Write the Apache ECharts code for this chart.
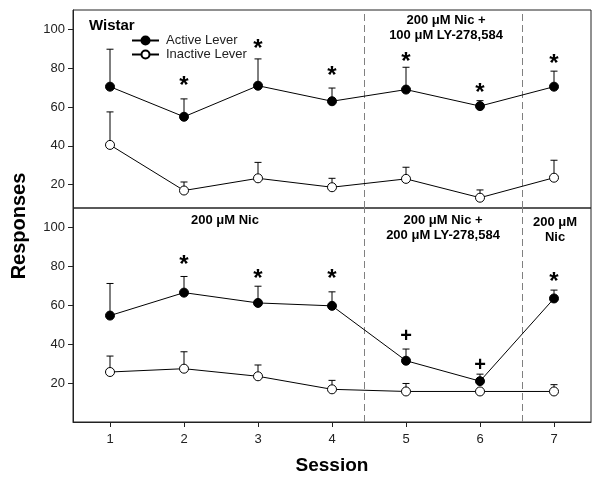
<!DOCTYPE html>
<html>
<head>
<meta charset="utf-8">
<script src="https://cdn.jsdelivr.net/npm/echarts@6/dist/echarts.min.js"></script>
<style>html,body{margin:0;padding:0;background:#fff;}#c{width:600px;height:484px;}</style>
</head>
<body>
<div id="c"></div>
<script>
// ---- data ----
const sessions = [1, 2, 3, 4, 5, 6, 7];
const tickLabels = [1, 2, 3, 4, 5, 6, 7];
const yTicks = [20, 40, 60, 80, 100];
const phaseBoundaries = [4.43, 6.57];

// Top panel (Wistar, LY 100 uM)
const topActive = [70.5, 55, 71, 63, 69, 60.5, 70.5];
const topActiveErr = [19.3, 9.2, 13.8, 6.8, 11.5, 2.8, 8];
const topInactive = [40.5, 17, 23.3, 18.7, 23, 13.3, 23.6];
const topInactiveErr = [17, 4.4, 8.2, 4.6, 6, 4, 9];
const topMarks = ['', '*', '*', '*', '*', '*', '*'];
const topMarkY = [0, 74, 93, 79, 86, 70, 85];

// Bottom panel (LY 200 uM)
const botActive = [54.7, 66.5, 61.2, 59.7, 31.5, 21, 63.5];
const botActiveErr = [16.5, 8.3, 8.6, 7.2, 6, 3.6, 4.3];
const botInactive = [25.7, 27.4, 23.5, 16.8, 15.7, 15.7, 15.7];
const botInactiveErr = [8.2, 8.7, 5.8, 4.6, 4.1, 0, 3.5];
const botMarks = ['', '*', '*', '*', '+', '+', '*'];
const botMarkY = [0, 83.4, 76.2, 76.2, 43.9, 28.9, 74.8];

const FONT = "'Liberation Sans', Arial, sans-serif";

function pts(vals) { return sessions.map((s, i) => [s, vals[i]]); }
function errPts(vals, errs) { return sessions.map((s, i) => [s, vals[i], errs[i]]); }
function markPts(marks, ys) {
  const out = [];
  sessions.forEach((s, i) => { if (marks[i]) out.push([s, ys[i], marks[i]]); });
  return out;
}

function errRender(params, api) {
  const x = api.value(0), y = api.value(1), e = api.value(2);
  if (!e) return null;
  const p0 = api.coord([x, y]);
  const p1 = api.coord([x, y + e]);
  const st = { stroke: '#000', lineWidth: 1 };
  return {
    type: 'group', children: [
      { type: 'line', shape: { x1: p0[0], y1: p0[1], x2: p1[0], y2: p1[1] }, style: st },
      { type: 'line', shape: { x1: p1[0] - 3.5, y1: p1[1], x2: p1[0] + 3.5, y2: p1[1] }, style: st }
    ]
  };
}
function markRender(params, api) {
  const p = api.coord([api.value(0), api.value(1)]);
  const t = api.value(2);
  const isStar = t === '*';
  return {
    type: 'text',
    style: {
      text: t, x: p[0], y: p[1] + (isStar ? 6 : 0),
      textAlign: 'center', textVerticalAlign: 'middle',
      font: 'bold ' + (isStar ? 24 : 20) + 'px ' + FONT, fill: '#000'
    }
  };
}

function lineSeries(name, vals, gi, filled, withMark) {
  const s = {
    name: name, type: 'line', xAxisIndex: gi, yAxisIndex: gi, data: pts(vals),
    symbol: 'circle', symbolSize: 9, z: 5,
    lineStyle: { color: '#000', width: 1 },
    itemStyle: { color: filled ? '#000' : '#fff', borderColor: '#000', borderWidth: 1 },
    emphasis: { disabled: true }, animation: false
  };
  if (withMark) {
    s.markLine = {
      silent: true, symbol: 'none', label: { show: false },
      lineStyle: { color: '#808080', type: [7, 4], width: 1 },
      data: phaseBoundaries.map(v => ({ xAxis: v }))
    };
  }
  return s;
}
function errSeries(vals, errs, gi) {
  return {
    type: 'custom', xAxisIndex: gi, yAxisIndex: gi, renderItem: errRender,
    data: errPts(vals, errs), z: 2, silent: true, animation: false
  };
}
function markSeries(marks, ys, gi) {
  return {
    type: 'custom', xAxisIndex: gi, yAxisIndex: gi, renderItem: markRender,
    data: markPts(marks, ys), z: 6, silent: true, animation: false
  };
}

const chart = echarts.init(document.getElementById('c'), null, { renderer: 'canvas' });

const xBase = {
  type: 'value', min: 0.5, max: 7.5, splitLine: { show: false }
};
const yBase = {
  type: 'value', max: 110, splitLine: { show: false },
  axisLine: { show: true, lineStyle: { color: '#222' } },
  axisTick: { show: true, length: 5, inside: false, customValues: yTicks, lineStyle: { color: '#222' } },
  axisLabel: { customValues: yTicks, fontSize: 13, color: '#222', fontFamily: FONT, margin: 8 }
};

chart.setOption({
  backgroundColor: '#fff',
  animation: false,
  grid: [
    { left: 73, top: 10, width: 518, height: 198, show: true, borderColor: '#222', borderWidth: 1 },
    { left: 73, top: 208, width: 518, height: 214, show: true, borderColor: '#222', borderWidth: 1 }
  ],
  xAxis: [
    Object.assign({}, xBase, { gridIndex: 0, axisLine: { show: false }, axisTick: { show: false }, axisLabel: { show: false } }),
    Object.assign({}, xBase, {
      gridIndex: 1,
      axisLine: { show: true, lineStyle: { color: '#222' } },
      axisTick: { show: true, length: 5, customValues: tickLabels, lineStyle: { color: '#222' } },
      axisLabel: { customValues: tickLabels, fontSize: 13, color: '#222', fontFamily: FONT, margin: 11 },
      name: 'Session', nameLocation: 'middle', nameGap: 34,
      nameTextStyle: { fontSize: 19, fontWeight: 'bold', color: '#000', fontFamily: FONT }
    })
  ],
  yAxis: [
    Object.assign({}, yBase, { gridIndex: 0, min: 8 }),
    Object.assign({}, yBase, { gridIndex: 1, min: 0 })
  ],
  legend: {
    left: 131, top: 34, padding: 0, orient: 'vertical', itemGap: 1, itemWidth: 27, itemHeight: 10,
    data: ['Active Lever', 'Inactive Lever'],
    textStyle: { fontSize: 13, color: '#222', fontFamily: FONT, padding: [0, 0, 0, 2] },
    selectedMode: false
  },
  series: [
    errSeries(topActive, topActiveErr, 0),
    errSeries(topInactive, topInactiveErr, 0),
    lineSeries('Active Lever', topActive, 0, true, true),
    lineSeries('Inactive Lever', topInactive, 0, false, false),
    markSeries(topMarks, topMarkY, 0),
    errSeries(botActive, botActiveErr, 1),
    errSeries(botInactive, botInactiveErr, 1),
    lineSeries('Active Lever', botActive, 1, true, true),
    lineSeries('Inactive Lever', botInactive, 1, false, false),
    markSeries(botMarks, botMarkY, 1)
  ],
  graphic: [
    { type: 'text', left: 89, top: 18, style: { text: 'Wistar', font: 'bold 15px ' + FONT, fill: '#000' } },
    { type: 'text', x: 446, y: 13, style: { text: '200 μM Nic +\n100 μM LY-278,584', font: 'bold 13px ' + FONT, fill: '#000', textAlign: 'center', lineHeight: 15 } },
    { type: 'text', x: 225, y: 213, style: { text: '200 μM Nic', font: 'bold 13px ' + FONT, fill: '#000', textAlign: 'center', lineHeight: 15 } },
    { type: 'text', x: 443, y: 213, style: { text: '200 μM Nic +\n200 μM LY-278,584', font: 'bold 13px ' + FONT, fill: '#000', textAlign: 'center', lineHeight: 15 } },
    { type: 'text', x: 555, y: 215, style: { text: '200 μM\nNic', font: 'bold 13px ' + FONT, fill: '#000', textAlign: 'center', lineHeight: 15 } },
    { type: 'text', x: 19, y: 226, rotation: Math.PI / 2, style: { text: 'Responses', font: 'bold 20px ' + FONT, fill: '#000', textAlign: 'center', textVerticalAlign: 'middle' } }
  ]
});
</script>
</body>
</html>
